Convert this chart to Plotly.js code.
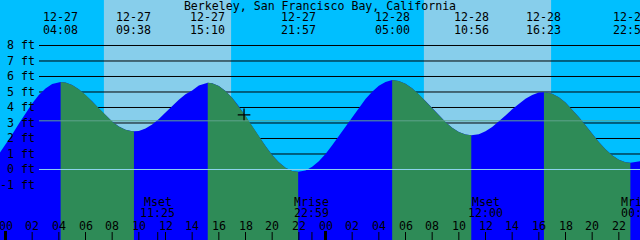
<!DOCTYPE html>
<html><head><meta charset="utf-8">
<script src="https://cdn.plot.ly/plotly-3.0.1.min.js"></script>
<style>html,body{margin:0;padding:0;background:#00BFFF;overflow:hidden}#chart{width:640px;height:240px}</style>
</head><body><div id="chart"></div>
<script>
const chartTitle = "Berkeley, San Francisco Bay, California";
// hours from 12-27 00:00, tide level in feet
const tideHours = [-0.5,0,0.5,1,1.5,2,2.5,3,3.5,4,4.133,
  4.5,5,5.5,6,6.5,7,7.5,8,8.5,9,9.5,9.633,
  10,10.5,11,11.5,12,12.5,13,13.5,14,14.5,15,15.167,
  15.5,16,16.5,17,17.5,18,18.5,19,19.5,20,20.5,21,21.5,21.95,
  22.5,23,23.5,24,24.5,25,25.5,26,26.5,27,27.5,28,28.5,29.0,
  29.5,30,30.5,31,31.5,32,32.5,33,33.5,34,34.5,34.933,
  35.5,36,36.5,37,37.5,38,38.5,39,39.5,40,40.383,
  40.5,41,41.5,42,42.5,43,43.5,44,44.5,45,45.5,46,46.5,46.867,
  47.5,48];
const tideFeet = [0.99,1.59,2.26,2.95,3.63,4.26,4.80,5.23,5.51,5.63,5.64,
  5.61,5.45,5.18,4.82,4.40,3.94,3.50,3.10,2.78,2.56,2.47,2.46,
  2.49,2.65,2.91,3.26,3.68,4.12,4.50,4.85,5.10,5.42,5.58,5.60,
  5.57,5.39,5.07,4.63,4.08,3.46,2.80,2.14,1.51,0.94,0.47,0.12,-0.09,-0.15,
  -0.06,0.17,0.53,1.00,1.56,2.15,2.78,3.40,3.98,4.55,5.02,5.40,5.65,5.77,
  5.71,5.53,5.24,4.86,4.42,3.96,3.49,3.06,2.70,2.42,2.26,2.21,
  2.28,2.47,2.74,3.09,3.48,3.88,4.25,4.57,4.81,4.96,4.99,
  4.98,4.89,4.66,4.33,3.89,3.39,2.85,2.31,1.78,1.31,0.92,0.63,0.47,0.43,
  0.49,0.58];
const extremaHours = [4.133,9.633,15.167,21.95,29.0,34.933,40.383,46.867];
const extremaKind = ["high","low","high","low","high","low","high","low"];
const extremaDates = ["12-27","12-27","12-27","12-27","12-28","12-28","12-28","12-28"];
const extremaTimes = ["04:08","09:38","15:10","21:57","05:00","10:56","16:23","22:52"];
const sunriseHours = [7.38, 31.38];
const sunsetHours = [16.92, 40.92];
const moonHours = [11.417, 22.983, 36.0, 48.083];
const moonEvents = ["Mset","Mrise","Mset","Mrise"];
const moonTimes = ["11:25","22:59","12:00","00:05"];
const hourTicks = [0,2,4,6,8,10,12,14,16,18,20,22,24,26,28,30,32,34,36,38,40,42,44,46,48];
const hourLabels = ["00","02","04","06","08","10","12","14","16","18","20","22","00","02","04","06","08","10","12","14","16","18","20","22","00"];
const levelTicks = [-1,0,1,2,3,4,5,6,7,8];
const levelLabels = ["-1 ft","0 ft","1 ft","2 ft","3 ft","4 ft","5 ft","6 ft","7 ft","8 ft"];
const meanLevel = 3.14;
const nowHour = 17.89, nowFeet = 3.53;

const W = 640, H = 240;
const xMin = -0.4125, xMax = 47.5875;
const yMax = 10.935, yMin = yMax - 240/15.5;
const FONT = "DejaVu Sans Mono";
const FS = 11.6;
const py = p => 1 - p / H; // pixel row -> paper y

const traces = [];
function addFill(xs, ys, color) {
  traces.push({x:[xs[0], xs[xs.length-1]], y:[yMin-2, yMin-2], mode:'lines', line:{width:0}, hoverinfo:'skip', showlegend:false});
  traces.push({x:xs, y:ys, mode:'lines', line:{width:0, color:color}, fill:'tonexty', fillcolor:color, hoverinfo:'skip', showlegend:false});
}
addFill(tideHours, tideFeet, '#0000FF');
for (let i = 0; i < extremaHours.length - 1; i++) {
  if (extremaKind[i] !== 'high') continue;
  const a = extremaHours[i], b = extremaHours[i+1];
  const xs = [], ys = [];
  tideHours.forEach((t, k) => { if (t >= a - 1e-6 && t <= b + 1e-6) { xs.push(t); ys.push(tideFeet[k]); } });
  addFill(xs, ys, '#2E8B57');
}
traces.push({x:[nowHour], y:[nowFeet], mode:'markers', marker:{symbol:'cross-thin', size:9, line:{color:'#000', width:1.3}}, hoverinfo:'skip', showlegend:false});

const shapes = [];
sunriseHours.forEach((s, i) => shapes.push({type:'rect', layer:'below', xref:'x', yref:'paper', x0:s, x1:sunsetHours[i], y0:0, y1:1, fillcolor:'#87CEEB', line:{width:0}}));
levelTicks.forEach(v => { if (v !== 0) shapes.push({type:'line', layer:'below', xref:'paper', yref:'y', x0:39/W, x1:1, y0:v, y1:v, line:{color:'#000', width:1}}); });
shapes.push({type:'line', layer:'above', xref:'paper', yref:'y', x0:39/W, x1:1, y0:0, y1:0, line:{color:'#8ED3EE', width:1}});
shapes.push({type:'line', layer:'above', xref:'paper', yref:'y', x0:39/W, x1:1, y0:meanLevel, y1:meanLevel, line:{color:'#5FA38C', width:1}});
hourTicks.forEach((h, i) => {
  const mid = hourLabels[i] === '00';
  shapes.push({type:'line', layer:'above', xref:'x', yref:'paper', x0:h, x1:h, y0:0, y1:(mid ? 9 : 8)/H, line:{color:'#000', width: mid ? 3 : 1}});
});
moonHours.forEach(h => shapes.push({type:'line', layer:'above', xref:'x', yref:'paper', x0:h, x1:h, y0:0, y1:8/H, line:{color:'#000', width:1}}));

const ann = [];
const txt = (x, xref, y, yref, text, xanchor) => ann.push({x, xref, y, yref, text, showarrow:false, xanchor: xanchor || 'center', yanchor:'middle', font:{family:FONT, size:FS, color:'#000'}, borderpad:0});
levelTicks.forEach((v, i) => txt(36/W, 'paper', v, 'y', levelLabels[i], 'right'));
extremaHours.forEach((h, i) => {
  txt(h, 'x', py(17.3), 'paper', extremaDates[i]);
  txt(h, 'x', py(29.7), 'paper', extremaTimes[i]);
});
hourTicks.forEach((h, i) => txt(h, 'x', py(226), 'paper', hourLabels[i]));
moonHours.forEach((h, i) => {
  const c = Math.min(h, xMax - 0.15);
  txt(c, 'x', py(201.7), 'paper', moonEvents[i]);
  txt(c, 'x', py(213.3), 'paper', moonTimes[i]);
});

const layout = {
  width: W, height: H,
  margin: {l:0, r:0, t:0, b:0, pad:0},
  paper_bgcolor: '#00BFFF', plot_bgcolor: '#00BFFF',
  title: {text: chartTitle, x:0.5, xref:'paper', xanchor:'center', y: 1 - 6/H, yref:'container', yanchor:'middle', font:{family:FONT, size:FS, color:'#000'}, pad:{t:0,b:0,l:0,r:0}},
  xaxis: {range:[xMin, xMax], visible:false, fixedrange:true},
  yaxis: {range:[yMin, yMax], visible:false, fixedrange:true},
  showlegend: false,
  shapes: shapes,
  annotations: ann
};
Plotly.newPlot('chart', traces, layout, {displayModeBar:false, staticPlot:true});
</script></body></html>
